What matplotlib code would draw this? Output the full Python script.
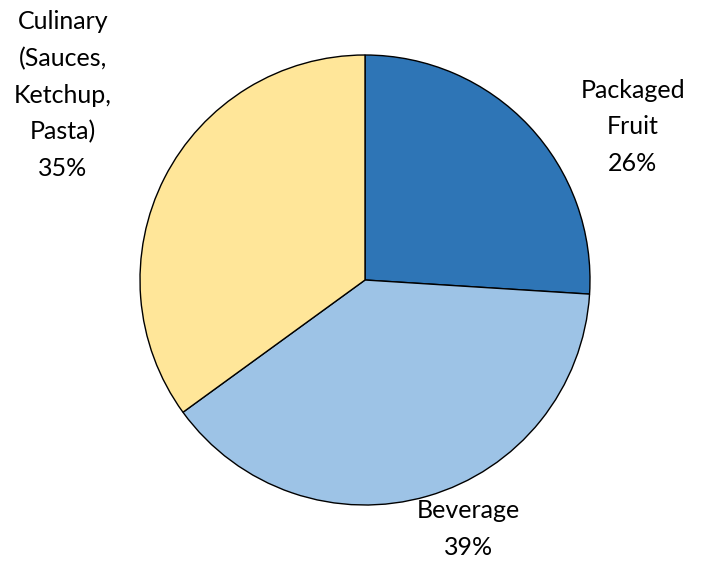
import matplotlib.pyplot as plt

# segment data
labels = ["Packaged\nFruit", "Beverage", "Culinary\n(Sauces,\nKetchup,\nPasta)"]
shares = [26, 39, 35]
colors = ["#2E75B6", "#9DC3E6", "#FFE699"]

# label anchor points (in pie radius units)
label_pos = [(1.19, 0.68), (0.458, -1.107), (-1.342, 0.822)]

plt.rcParams['font.family'] = ['Lato', 'DejaVu Sans']

fig = plt.figure(figsize=(7.11, 5.86), dpi=100)
cx, cy, r = 365, 280, 225
ax = fig.add_axes([(cx - r) / 711, (586 - cy - r) / 586, 2 * r / 711, 2 * r / 586])

ax.pie(shares, colors=colors, startangle=90, counterclock=False, radius=1,
       wedgeprops=dict(edgecolor="black", linewidth=1))

for lab, val, (x, y) in zip(labels, shares, label_pos):
    ax.text(x, y, f"{lab}\n{val}%", ha="center", va="center", fontsize=18,
            linespacing=1.72, color="black")

ax.set_xlim(-1, 1)
ax.set_ylim(-1, 1)
ax.set_aspect("equal")
ax.axis("off")

fig.savefig("out.png", dpi=100)
